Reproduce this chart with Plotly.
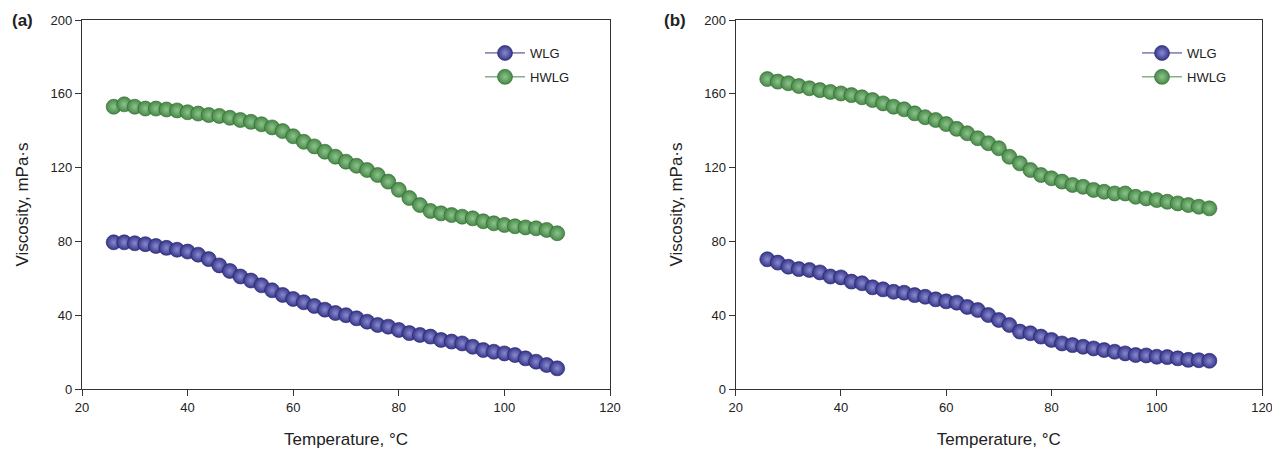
import plotly.graph_objects as go
from plotly.subplots import make_subplots

temps = list(range(26, 111, 2))

wlg_a = [79.5, 79.5, 79, 78.5, 77.5, 76.5, 75.5, 74.5, 72.8, 70.4, 67, 64, 61, 58.8, 56.2, 53.5,
         51, 48.8, 47, 45, 43, 41.2, 40, 38.3, 36.5, 34.7, 33.8, 32, 30.3, 29.3, 28.4, 26.6,
         25.7, 24.7, 22.9, 21.1, 20.2, 19.3, 18.4, 16.6, 14.8, 13, 11.2]
hwlg_a = [153, 154.3, 153, 152, 152, 151.5, 151, 150, 149.3, 148.5, 148, 147, 145.8, 144.8,
          143.5, 141.8, 139.8, 137, 134, 131.5, 128.6, 125.9, 123.2, 121, 118.7, 116, 112.4,
          108, 103.5, 99.7, 96.5, 95.2, 94.3, 93.4, 92.5, 90.9, 89.8, 88.9, 88.2, 87.6, 87.1,
          86.2, 84.4]
wlg_b = [70.3, 68.5, 66.3, 65, 64.5, 63.2, 61, 60.5, 58.2, 57.3, 55.1, 54, 52.7, 52.2, 50.9,
         50, 48.6, 47.5, 46.8, 44.5, 42.8, 40.1, 37.4, 34.7, 31.1, 30.2, 28.4, 26.6, 24.7,
         23.8, 22.9, 22, 21.1, 20.2, 19.3, 18.4, 18.2, 17.5, 17.3, 16.6, 15.8, 15.6, 15.3]
hwlg_b = [168, 166.6, 165.7, 164.2, 163, 162, 161, 160.2, 159.3, 158.1, 156.6, 154.8, 153,
          151.6, 149.4, 147.3, 145.8, 143.6, 141, 138.6, 135.9, 133.2, 130.5, 125.9, 122.3,
          118.7, 116, 114.2, 112.4, 110.6, 109.6, 107.9, 106.9, 106, 106, 104.2, 103.3, 102.4,
          101.5, 100.6, 99.7, 98.8, 97.9]

panels = [("(a)", wlg_a, hwlg_a), ("(b)", wlg_b, hwlg_b)]
series_names = ["WLG", "HWLG"]
colors = ["#36368a", "#488848"]
edge = ["#22226a", "#2a642a"]
glow = ["#8a8ad0", "#8cc48c"]

x_ticks = [20, 40, 60, 80, 100, 120]
y_ticks = [0, 40, 80, 120, 160, 200]

FONT = "Arial, Liberation Sans, sans-serif"

fig = make_subplots(rows=1, cols=2, horizontal_spacing=0.1)

for pi, (lab, w, h) in enumerate(panels):
    for si, (name, vals) in enumerate(zip(series_names, [w, h])):
        fig.add_trace(go.Scatter(
            x=temps, y=vals, name=name, mode="lines+markers",
            line=dict(color=colors[si], width=1),
            marker=dict(size=15, color=colors[si],
                        gradient=dict(type="radial", color=glow[si]),
                        line=dict(color=edge[si], width=0.6)),
            legend="legend" if pi == 0 else "legend2",
            legendgroup=f"{pi}{si}",
        ), row=1, col=pi + 1)

doms = [[82 / 1272, 610 / 1272], [735.7 / 1272, 1262 / 1272]]
for i in range(2):
    sfx = "" if i == 0 else "2"
    fig.layout["xaxis" + sfx].update(
        domain=doms[i], range=[20, 120], tickvals=x_ticks, ticks="outside", ticklen=6,
        tickcolor="#333", linecolor="#333", linewidth=1.3, mirror=True, showgrid=False,
        zeroline=False, automargin=False, ticklabeloverflow="allow",
        tickfont=dict(family=FONT, size=13, color="#222"),
        title=dict(text="Temperature, °C", font=dict(family=FONT, size=17, color="#222"),
                   standoff=21))
    fig.layout["yaxis" + sfx].update(
        range=[0, 200], tickvals=y_ticks, ticks="outside", ticklen=6,
        tickcolor="#333", linecolor="#333", linewidth=1.3, mirror=True, showgrid=False,
        zeroline=False, automargin=False,
        tickfont=dict(family=FONT, size=13, color="#222"),
        title=dict(text="Viscosity, mPa·s", font=dict(family=FONT, size=17, color="#222"),
                   standoff=17))

for i, (lab, _, _) in enumerate(panels):
    xpos = [10 / 1272, 662 / 1272][i]
    fig.add_annotation(text=f"<b>{lab}</b>", xref="paper", yref="paper", x=xpos, y=1.0,
                       xanchor="left", yanchor="middle", showarrow=False,
                       font=dict(family=FONT, size=17, color="#222"))

leg_common = dict(font=dict(family=FONT, size=13, color="#222"), bgcolor="rgba(0,0,0,0)",
                  itemwidth=40, tracegroupgap=4, yanchor="top", xanchor="left")
fig.update_layout(
    width=1272, height=449, plot_bgcolor="white", paper_bgcolor="white",
    margin=dict(l=0, r=0, t=20, b=60),
    legend=dict(x=480 / 1272, y=1 - (38 - 20) / 369, **leg_common),
    legend2=dict(x=1137 / 1272, y=1 - (38 - 20) / 369, **leg_common),
)

fig.write_html("out.html", config={"displayModeBar": False},
               post_script="document.body.style.margin='0';document.body.style.overflow='hidden';")
